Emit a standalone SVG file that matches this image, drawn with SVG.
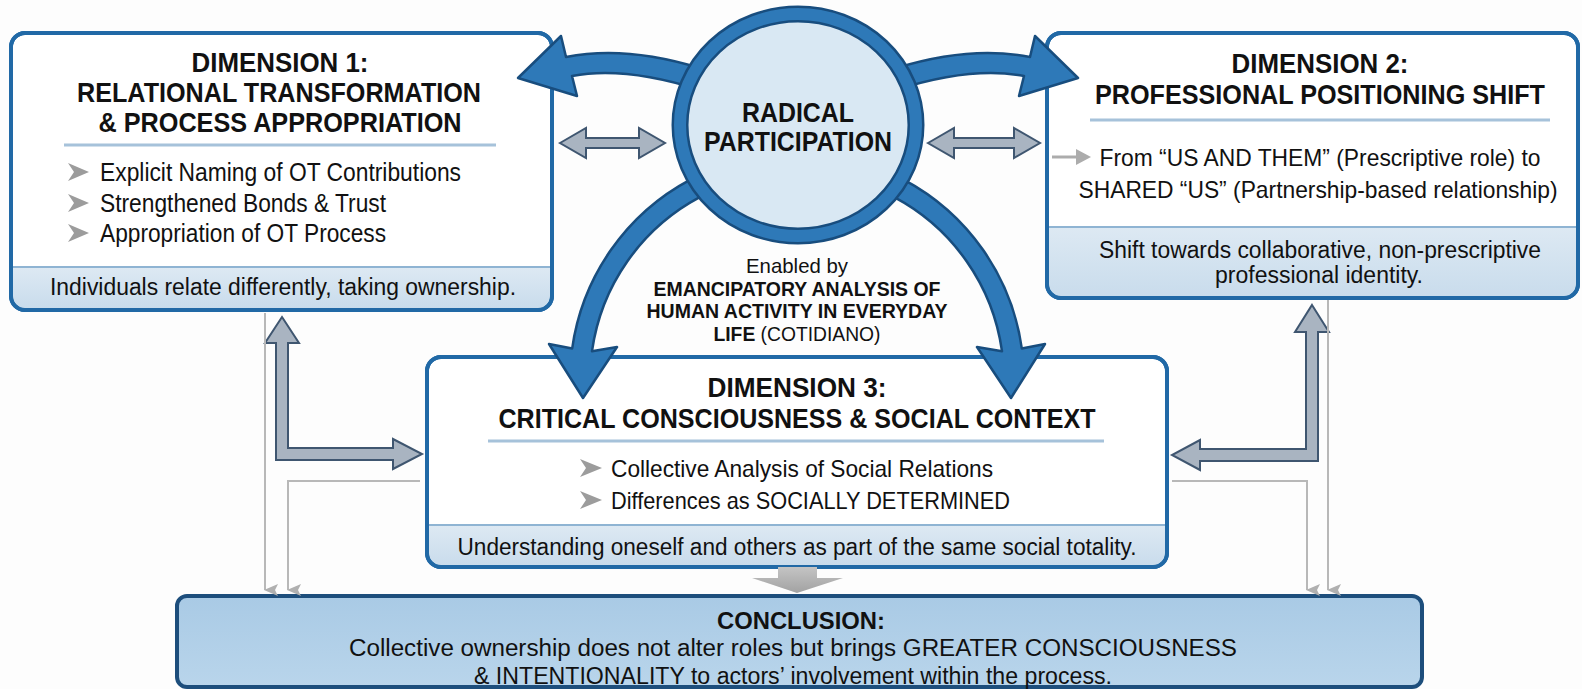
<svg xmlns="http://www.w3.org/2000/svg" width="1582" height="689" viewBox="0 0 1582 689">
<defs>
<linearGradient id="band" x1="0" y1="0" x2="0" y2="1"><stop offset="0" stop-color="#dde9f3"/><stop offset="1" stop-color="#c9dcec"/></linearGradient>
<linearGradient id="concl" x1="0" y1="0" x2="0" y2="1"><stop offset="0" stop-color="#a9cae5"/><stop offset="1" stop-color="#b9d5eb"/></linearGradient>
<linearGradient id="greyA" x1="0" y1="0" x2="0" y2="1"><stop offset="0" stop-color="#c4c4c4"/><stop offset="1" stop-color="#a2a2a2"/></linearGradient>
<marker id="thinHead" viewBox="0 0 12 14" refX="6" refY="13" markerWidth="12" markerHeight="14" markerUnits="userSpaceOnUse" orient="auto-start-reverse">
<path d="M0 0 L6 3 L12 0 L6 14 Z" fill="#b0b0b0"/>
</marker>
</defs>
<style>
.box{fill:#ffffff;stroke:#2169a6;stroke-width:4}
.band{fill:url(#band)}
.bandline{stroke:#8fb4d3;stroke-width:2}
.div{stroke:#a6c2da;stroke-width:3}
.t{font-family:"Liberation Sans",Arial,sans-serif;fill:#111}
.h{font-weight:bold;font-size:28px;text-anchor:middle}
.b{font-size:25px}
.f{font-size:23px;text-anchor:middle}
.c{text-anchor:middle}
.bul{fill:#9c9c9c}
.bigA{fill:#2e79b8;stroke:#184d7e;stroke-width:2.5;stroke-linejoin:round}
.greyD{fill:#a9b4c1;stroke:#3f5670;stroke-width:2;stroke-linejoin:miter}
.thin{fill:none;stroke:#b8b8b8;stroke-width:2}
</style>
<rect width="1582" height="689" fill="#fdfdfd"/>

<g id="dim1">
<rect class="box" x="11" y="33" width="541" height="277" rx="14"/>
<path class="band" d="M13 267 H550 V296 A12 12 0 0 1 538 308 H25 A12 12 0 0 1 13 296 Z"/>
<line class="bandline" x1="13" y1="267" x2="550" y2="267"/>
<rect x="11" y="33" width="541" height="277" rx="14" fill="none" stroke="#2169a6" stroke-width="4"/>
<text class="t h" x="280" y="72" textLength="177" lengthAdjust="spacingAndGlyphs">DIMENSION 1:</text>
<text class="t h" x="279" y="102" textLength="404" lengthAdjust="spacingAndGlyphs">RELATIONAL TRANSFORMATION</text>
<text class="t h" x="280" y="132" textLength="363" lengthAdjust="spacingAndGlyphs">&amp; PROCESS APPROPRIATION</text>
<line class="div" x1="64" y1="145" x2="496" y2="145"/>
<polygon class="bul" points="68,163 89,172 68,181 74,172"/>
<polygon class="bul" points="68,194 89,203 68,212 74,203"/>
<polygon class="bul" points="68,224 89,233 68,242 74,233"/>
<text class="t b" x="100" y="181" textLength="361" lengthAdjust="spacingAndGlyphs">Explicit Naming of OT Contributions</text>
<text class="t b" x="100" y="212" textLength="286" lengthAdjust="spacingAndGlyphs">Strengthened Bonds &amp; Trust</text>
<text class="t b" x="100" y="242" textLength="286" lengthAdjust="spacingAndGlyphs">Appropriation of OT Process</text>
<text class="t f" x="283" y="295" textLength="466" lengthAdjust="spacingAndGlyphs">Individuals relate differently, taking ownership.</text>
</g>

<g id="dim2">
<rect class="box" x="1047" y="33" width="531" height="265" rx="14"/>
<path class="band" d="M1049 227 H1576 V284 A12 12 0 0 1 1564 296 H1061 A12 12 0 0 1 1049 284 Z"/>
<line class="bandline" x1="1049" y1="227" x2="1576" y2="227"/>
<rect x="1047" y="33" width="531" height="265" rx="14" fill="none" stroke="#2169a6" stroke-width="4"/>
<text class="t h" x="1320" y="73" textLength="177" lengthAdjust="spacingAndGlyphs">DIMENSION 2:</text>
<text class="t h" x="1320" y="104" font-size="25" textLength="450" lengthAdjust="spacingAndGlyphs">PROFESSIONAL POSITIONING SHIFT</text>
<line class="div" x1="1090" y1="120" x2="1550" y2="120"/>
<text class="t c" x="1320" y="166" font-size="24" textLength="441" lengthAdjust="spacingAndGlyphs">From “US AND THEM” (Prescriptive role) to</text>
<text class="t c" x="1318" y="198" font-size="24" textLength="479" lengthAdjust="spacingAndGlyphs">SHARED “US” (Partnership-based relationship)</text>
<text class="t f" x="1320" y="258" textLength="442" lengthAdjust="spacingAndGlyphs">Shift towards collaborative, non-prescriptive</text>
<text class="t f" x="1319" y="283" textLength="208" lengthAdjust="spacingAndGlyphs">professional identity.</text>
</g>

<g id="dim3">
<rect class="box" x="427" y="357" width="740" height="210" rx="14"/>
<path class="band" d="M429 525 H1165 V553 A12 12 0 0 1 1153 565 H441 A12 12 0 0 1 429 553 Z"/>
<line class="bandline" x1="429" y1="525" x2="1165" y2="525"/>
<rect x="427" y="357" width="740" height="210" rx="14" fill="none" stroke="#2169a6" stroke-width="4"/>
<text class="t h" x="797" y="397" textLength="179" lengthAdjust="spacingAndGlyphs">DIMENSION 3:</text>
<text class="t h" x="797" y="428" textLength="597" lengthAdjust="spacingAndGlyphs">CRITICAL CONSCIOUSNESS &amp; SOCIAL CONTEXT</text>
<line class="div" x1="488" y1="441" x2="1104" y2="441"/>
<polygon class="bul" points="580,459 602,468 580,477 586,468"/>
<polygon class="bul" points="580,491 602,500 580,509 586,500"/>
<text class="t" x="611" y="477" font-size="24" textLength="382" lengthAdjust="spacingAndGlyphs">Collective Analysis of Social Relations</text>
<text class="t" x="611" y="509" font-size="24" textLength="399" lengthAdjust="spacingAndGlyphs">Differences as SOCIALLY DETERMINED</text>
<text class="t f" x="797" y="555" textLength="679" lengthAdjust="spacingAndGlyphs">Understanding oneself and others as part of the same social totality.</text>
</g>

<g id="conclusion">
<rect x="177" y="596" width="1245" height="91" rx="10" fill="url(#concl)" stroke="#1d4e7c" stroke-width="4"/>
<text class="t c" x="801" y="629" font-size="23" font-weight="bold" textLength="168" lengthAdjust="spacingAndGlyphs">CONCLUSION:</text>
<text class="t c" x="793" y="656" font-size="23" textLength="888" lengthAdjust="spacingAndGlyphs">Collective ownership does not alter roles but brings GREATER CONSCIOUSNESS</text>
<text class="t c" x="793" y="684" font-size="23" textLength="638" lengthAdjust="spacingAndGlyphs">&amp; INTENTIONALITY to actors’ involvement within the process.</text>
</g>

<g id="connectors">
<path class="bigA" d="M700 68 Q625 45 566 57 L561 36 L518 78 L577 96 L572 76 Q625 66 700 90 Z"/>
<path class="bigA" d="M896 68 Q971 45 1030 57 L1035 36 L1078 78 L1019 96 L1024 76 Q971 66 896 90 Z"/>
<path class="bigA" d="M690.4 179.6 A227 227 0 0 0 572.2 348.4 L549 344 L583 398 L617 347 L592 351.2 A207 207 0 0 1 699.8 197.2 Z"/>
<path class="bigA" d="M903.6 179.6 A227 227 0 0 1 1021.8 348.4 L1045 344 L1011 398 L977 347 L1002 351.2 A207 207 0 0 0 894.2 197.2 Z"/>
<polygon class="greyD" points="560,143 586,128 586,138 639,138 639,128 665,143 639,158 639,148 586,148 586,158"/>
<polygon class="greyD" points="928,143 954,128 954,138 1014,138 1014,128 1040,143 1014,158 1014,148 954,148 954,158"/>
<line x1="1052" y1="157" x2="1078" y2="157" stroke="#acacac" stroke-width="3"/>
<polygon points="1076,149 1091,157 1076,165" fill="#acacac"/>
<polygon class="greyD" points="282,317 299,343 288,343 288,448 393,448 393,439 422,454 393,469 393,460 276,460 276,343 265,343"/>
<polygon class="greyD" points="1312,305 1329,332 1318,332 1318,461 1200,461 1200,470 1172,455 1200,440 1200,449 1306,449 1306,332 1295,332"/>
<path class="thin" d="M265 313 V590" marker-end="url(#thinHead)"/>
<path class="thin" d="M420 481 H288 V590" marker-end="url(#thinHead)"/>
<path class="thin" d="M1328 300 V590" marker-end="url(#thinHead)"/>
<path class="thin" d="M1172 481 H1307 V590" marker-end="url(#thinHead)"/>
<polygon points="778,567 817,567 817,578 843,578 797,593 752,578 778,578" fill="url(#greyA)"/>
</g>

<g id="radical">
<ellipse cx="798" cy="125" rx="118" ry="111" fill="#d9e8f3" stroke="#184d7e" stroke-width="17"/>
<ellipse cx="798" cy="125" rx="118" ry="111" fill="none" stroke="#2e79b8" stroke-width="12"/>
<text class="t h" x="798" y="122" textLength="112" lengthAdjust="spacingAndGlyphs">RADICAL</text>
<text class="t h" x="798" y="151" textLength="188" lengthAdjust="spacingAndGlyphs">PARTICIPATION</text>
</g>

<g id="enabled-label">
<text class="t c" x="797" y="273" font-size="21" textLength="102" lengthAdjust="spacingAndGlyphs">Enabled by</text>
<text class="t c" x="797" y="296" font-size="21" font-weight="bold" textLength="287" lengthAdjust="spacingAndGlyphs">EMANCIPATORY ANALYSIS OF</text>
<text class="t c" x="797" y="318" font-size="21" font-weight="bold" textLength="301" lengthAdjust="spacingAndGlyphs">HUMAN ACTIVITY IN EVERYDAY</text>
<text class="t c" x="797" y="341" font-size="21" textLength="167" lengthAdjust="spacingAndGlyphs"><tspan font-weight="bold">LIFE</tspan> (COTIDIANO)</text>
</g>
</svg>
